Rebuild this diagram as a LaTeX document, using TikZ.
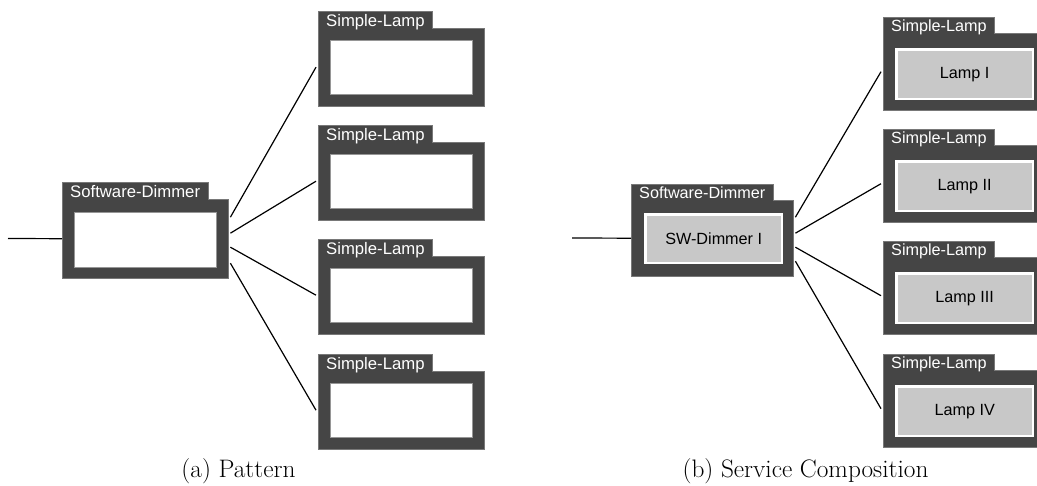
\documentclass[tikz,border=0pt]{standalone}
\usepackage{fontspec}
\newfontfamily\lsans{Liberation Sans}
\usetikzlibrary{calc}
\definecolor{wall}{RGB}{69,69,69}
\definecolor{rim}{RGB}{120,120,120}
\definecolor{slot}{RGB}{200,200,200}
\definecolor{slotedge}{RGB}{150,150,150}

\begin{document}
\begin{tikzpicture}[x=1pt,y=-1pt,
  body/.style={rectangle, fill=wall, inner sep=0pt, anchor=north west},
  tab/.style={rectangle, fill=wall, text=white, inner xsep=8pt, inner ysep=0pt,
    text depth=1pt, anchor=south west},
  bigsans/.style={font=\lsans\fontsize{16.7}{18}\selectfont},
  smallsans/.style={font=\lsans\fontsize{16.2}{18}\selectfont},
  emptyslot/.style={rectangle, fill=white, draw=slotedge, line width=0.8pt,
    inner sep=0pt, anchor=north west},
  fullslot/.style={rectangle, fill=slot, draw=white, line width=2.4pt,
    inner sep=0pt, anchor=north west, text=black},
  rimline/.style={draw=rim, line width=0.8pt},
  wire/.style={line width=1.2pt, black},
  caption/.style={font=\fontsize{25.3}{30}\selectfont, anchor=base}]

\useasboundingbox (0,0) rectangle (1037,486);

% ---------- (a) Pattern ----------
\node[body, minimum width=166pt, minimum height=79pt] (dA) at (62,199) {};
\node[tab, bigsans, text height=15pt] (dAtab) at (dA.north west) {Software-Dimmer};
\draw[rimline] (dAtab.north west) -- (dAtab.north east) -- (dAtab.south east)
  -- (dA.north east) -- (dA.south east) -- (dA.south west) -- cycle;
\node[emptyslot, minimum width=142pt, minimum height=55pt] (dAin) at (74,212) {};

\foreach \t/\n in {12/1,126/2,240/3,355/4}{
  \node[body, minimum width=166pt, minimum height=78pt] (la\n) at (318,\t+16) {};
  \node[tab, bigsans, text height=15pt] (la\n tab) at (la\n.north west) {Simple-Lamp};
  \draw[rimline] (la\n tab.north west) -- (la\n tab.north east) -- (la\n tab.south east)
    -- (la\n.north east) -- (la\n.south east) -- (la\n.south west) -- cycle;
  \node[emptyslot, minimum width=142pt, minimum height=54pt] (la\n in) at (330,\t+28) {};
}

\coordinate (inA) at (8,238.5);
\draw[wire] (inA) -- (dA.west);
\foreach \n/\dy in {1/-21.5,2/-5.5,3/8.5,4/24.5}
  \draw[wire] ($(dA.east)+(2,\dy)$) -- ($(la\n.west)+(-2,0)$);

\node[caption] (capA) at (238.5,478) {(a) Pattern};

% ---------- (b) Service Composition ----------
\node[body, minimum width=162pt, minimum height=76pt] (dB) at (631,200) {};
\node[tab, smallsans, text height=14pt] (dBtab) at (dB.north west) {Software-Dimmer};
\draw[rimline] (dBtab.north west) -- (dBtab.north east) -- (dBtab.south east)
  -- (dB.north east) -- (dB.south east) -- (dB.south west) -- cycle;
\node[fullslot, smallsans, minimum width=136.6pt, minimum height=48.6pt] (dBin)
  at (644.2,213.2) {SW-Dimmer I};

\foreach \t/\n/\r in {18/1/I,130/2/II,242/3/III,355/4/IV}{
  \node[body, minimum width=161pt, minimum height=77pt] (lb\n) at (883,\t+15) {};
  \node[tab, smallsans, text height=14pt] (lb\n tab) at (lb\n.north west) {Simple-Lamp};
  \draw[rimline] (lb\n tab.north west) -- (lb\n tab.north east) -- (lb\n tab.south east)
    -- (lb\n.north east) -- (lb\n.south east) -- (lb\n.south west) -- cycle;
  \node[fullslot, smallsans, minimum width=136.6pt, minimum height=49.6pt] (lb\n in)
    at (895.2,\t+30.2) {Lamp \r};
}

\coordinate (inB) at (572,238);
\draw[wire] (inB) -- (dB.west);
\foreach \n/\dy in {1/-21,2/-5,3/9,4/23}
  \draw[wire] ($(dB.east)+(2,\dy)$) -- ($(lb\n.west)+(-2,0)$);

\node[caption] (capB) at (805.5,478) {(b) Service Composition};
\end{tikzpicture}
\end{document}
